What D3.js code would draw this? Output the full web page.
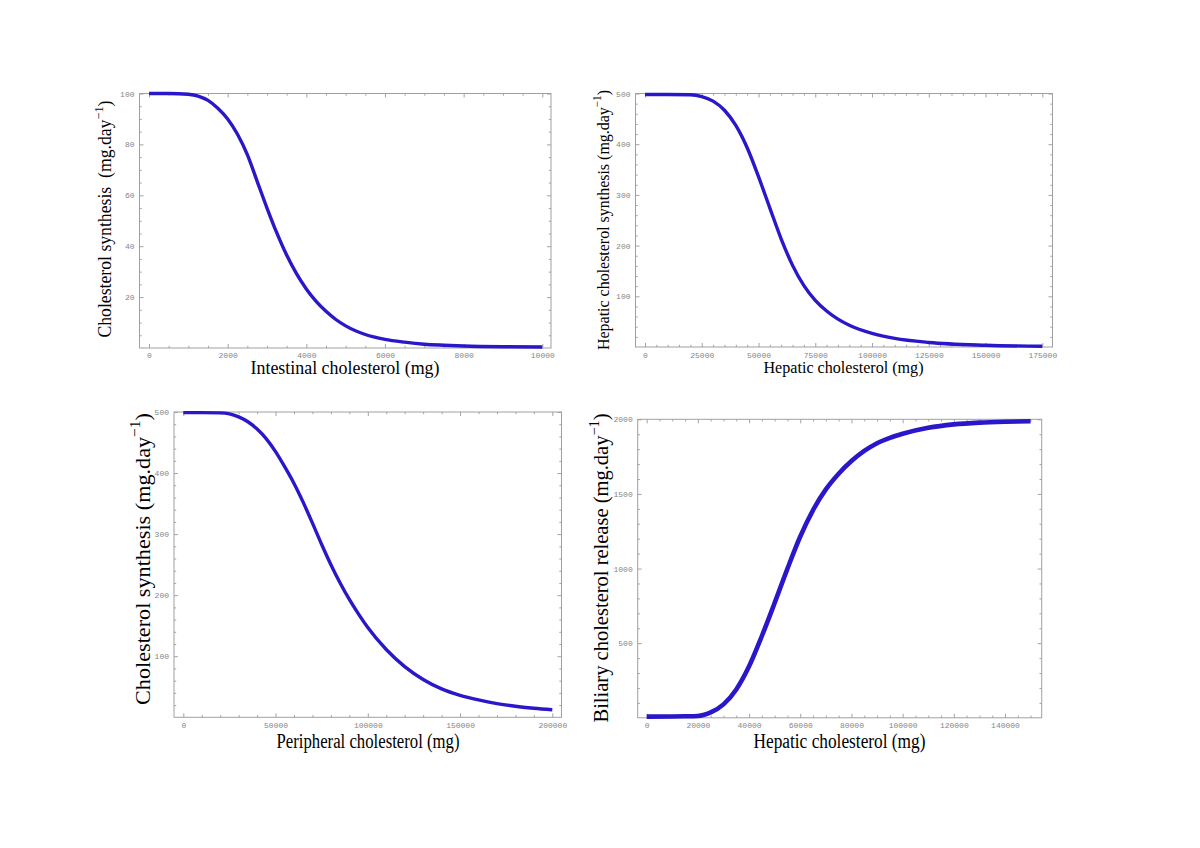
<!DOCTYPE html>
<html>
<head>
<meta charset="utf-8">
<script src="https://cdn.jsdelivr.net/npm/d3@7"></script>
<style>
  html, body { margin: 0; padding: 0; background: #fff; }
  svg { display: block; }
  .tick text { font-family: "Liberation Mono", "DejaVu Sans Mono", monospace; font-size: 8px; fill: #858585; }
  .title { font-family: "Liberation Serif", "Times New Roman", serif; fill: #000; }
</style>
</head>
<body>
<svg id="chart" width="1200" height="848"></svg>
<script>
// ---- Data ----
const p1X = [0, 500, 1000, 1250, 1500, 1750, 2000, 2250, 2500, 2750, 3000, 3250, 3500, 3750, 4000, 4250, 4500, 4750, 5000, 5500, 6000, 6500, 7000, 7500, 8000, 9000, 10000];
const p1Y = [100, 100, 99.7, 99, 97.3, 94.2, 90, 84, 76, 65.5, 55, 45.2, 36.5, 29.2, 23.2, 18.3, 14.4, 11.2, 8.7, 5.3, 3.4, 2.3, 1.5, 1.1, 0.8, 0.5, 0.4];

const p2X = [0, 10000, 20000, 25000, 30000, 35000, 40000, 45000, 50000, 55000, 60000, 65000, 70000, 75000, 80000, 85000, 90000, 100000, 110000, 125000, 150000, 175000];
const p2Y = [498, 498, 497.5, 494, 485, 467, 437, 393, 336, 274, 213, 161, 121, 92, 71, 55, 43, 27, 17, 9, 3.5, 1.5];

const p3X = [0, 10000, 20000, 25000, 30000, 35000, 40000, 45000, 50000, 55000, 60000, 65000, 70000, 75000, 80000, 85000, 90000, 95000, 100000, 110000, 120000, 130000, 140000, 150000, 160000, 170000, 180000, 190000, 200000];
const p3Y = [499, 499, 498.6, 497, 492, 484, 472, 456, 435, 410, 383, 352, 318, 283, 250, 220, 193, 169, 147, 111, 83, 62, 46.5, 36, 28.5, 22.5, 18, 14.8, 12.3];

const p4X = [0, 10000, 15000, 20000, 22500, 25000, 30000, 35000, 40000, 45000, 50000, 55000, 60000, 65000, 70000, 75000, 80000, 85000, 90000, 95000, 100000, 110000, 120000, 130000, 140000, 150000];
const p4Y = [8, 9, 10, 12.5, 21, 36, 90, 190, 345, 548, 770, 1000, 1215, 1392, 1530, 1635, 1720, 1788, 1840, 1876, 1903, 1943, 1966, 1978, 1984, 1987];

// tick values
const p1XTicks = [0, 2000, 4000, 6000, 8000, 10000];
const p1YTicks = [20, 40, 60, 80, 100];
const p2XTicks = [0, 25000, 50000, 75000, 100000, 125000, 150000, 175000];
const p2YTicks = [100, 200, 300, 400, 500];
const p3XTicks = [0, 50000, 100000, 150000, 200000];
const p3YTicks = [100, 200, 300, 400, 500];
const p4XTicks = [0, 20000, 40000, 60000, 80000, 100000, 120000, 140000];
const p4YTicks = [500, 1000, 1500, 2000];

const p1XLabel = "Intestinal cholesterol (mg)";
const p2XLabel = "Hepatic cholesterol (mg)";
const p3XLabel = "Peripheral cholesterol (mg)";
const p4XLabel = "Hepatic cholesterol (mg)";
const p1YLabel = "Cholesterol synthesis\u00a0\u00a0(mg.day";
const p2YLabel = "Hepatic cholesterol synthesis (mg.day";
const p3YLabel = "Cholesterol synthesis (mg.day";
const p4YLabel = "Biliary cholesterol release (mg.day";

// ---- Layout ----
const panels = [
  { xs: p1X, ys: p1Y, xTicks: p1XTicks, yTicks: p1YTicks, xMinor: 500, yMinor: 5,
    xDom: [0, 10000], yDom: [0, 100],
    frame: { l: 139.5, r: 551, t: 93.5, b: 348 }, xr: [149, 542.3], lw: 3.4, pad: 4.5,
    xl: { text: p1XLabel, cx: 345, y: 374, fs: 18, len: 189 },
    yl: { text: p1YLabel, cy: 219, x: 111, fs: 18, len: 237 } },
  { xs: p2X, ys: p2Y, xTicks: p2XTicks, yTicks: p2YTicks, xMinor: 5000, yMinor: 20,
    xDom: [0, 175000], yDom: [0, 500],
    frame: { l: 635.5, r: 1052.5, t: 93.5, b: 347 }, xr: [645, 1042.3], lw: 3.4, pad: 5,
    xl: { text: p2XLabel, cx: 843.5, y: 372.5, fs: 17, len: 160 },
    yl: { text: p2YLabel, cy: 220, x: 609, fs: 17, len: 260 } },
  { xs: p3X, ys: p3Y, xTicks: p3XTicks, yTicks: p3YTicks, xMinor: 10000, yMinor: 20,
    xDom: [0, 200000], yDom: [0, 500],
    frame: { l: 174, r: 561.5, t: 412, b: 717.3 }, xr: [183.3, 552.3], lw: 3.4, pad: 5,
    xl: { text: p3XLabel, cx: 368, y: 747.5, fs: 20, len: 183 },
    yl: { text: p3YLabel, cy: 559, x: 150, fs: 22, len: 292 } },
  { xs: p4X, ys: p4Y, xTicks: p4XTicks, yTicks: p4YTicks, xMinor: 5000, yMinor: 100,
    xDom: [0, 140000], yDom: [0, 2000],
    frame: { l: 637.7, r: 1041.7, t: 419.3, b: 717.8 }, xr: [646.7, 1005], lw: 4.6, pad: 5,
    xl: { text: p4XLabel, cx: 839.5, y: 747.5, fs: 20, len: 172 },
    yl: { text: p4YLabel, cy: 568, x: 608, fs: 21, len: 309 } }
];

const svg = d3.select("#chart");
svg.append("rect").attr("width", 1200).attr("height", 848).attr("fill", "#fff");

const lineColor = "#2a17c9";

panels.forEach(p => {
  const f = p.frame;
  const x = d3.scaleLinear().domain(p.xDom).range(p.xr);
  const y = d3.scaleLinear().domain(p.yDom).range([f.b, f.t]);
  const xHi = x.invert(f.r);
  const g = svg.append("g");

  // minor tick values
  const xMinorVals = d3.range(0, xHi + 1e-9, p.xMinor).filter(v => !p.xTicks.includes(v));
  const yMinorVals = d3.range(p.yMinor, p.yDom[1] + 1e-9, p.yMinor).filter(v => !p.yTicks.includes(v));

  const styleAxis = sel => {
    sel.select(".domain").remove();
    sel.selectAll(".tick line").attr("stroke", "#8c8c8c").attr("stroke-width", 0.8);
  };

  // bottom major with labels
  g.append("g").attr("transform", `translate(0,${f.b})`)
    .call(d3.axisBottom(x).tickValues(p.xTicks).tickSize(-4).tickPadding(p.pad).tickFormat(d3.format("d")))
    .call(styleAxis);
  g.append("g").attr("transform", `translate(0,${f.b})`)
    .call(d3.axisBottom(x).tickValues(xMinorVals).tickSize(-2.2).tickFormat(""))
    .call(styleAxis);
  // top
  g.append("g").attr("transform", `translate(0,${f.t})`)
    .call(d3.axisTop(x).tickValues(p.xTicks).tickSize(-4).tickFormat(""))
    .call(styleAxis);
  g.append("g").attr("transform", `translate(0,${f.t})`)
    .call(d3.axisTop(x).tickValues(xMinorVals).tickSize(-2.2).tickFormat(""))
    .call(styleAxis);
  // left major with labels
  g.append("g").attr("transform", `translate(${f.l},0)`)
    .call(d3.axisLeft(y).tickValues(p.yTicks).tickSize(-4).tickPadding(5).tickFormat(d3.format("d")))
    .call(styleAxis);
  g.append("g").attr("transform", `translate(${f.l},0)`)
    .call(d3.axisLeft(y).tickValues(yMinorVals).tickSize(-2.2).tickFormat(""))
    .call(styleAxis);
  // right
  g.append("g").attr("transform", `translate(${f.r},0)`)
    .call(d3.axisRight(y).tickValues(p.yTicks).tickSize(-4).tickFormat(""))
    .call(styleAxis);
  g.append("g").attr("transform", `translate(${f.r},0)`)
    .call(d3.axisRight(y).tickValues(yMinorVals).tickSize(-2.2).tickFormat(""))
    .call(styleAxis);

  // frame
  g.append("rect")
    .attr("x", f.l).attr("y", f.t)
    .attr("width", f.r - f.l).attr("height", f.b - f.t)
    .attr("fill", "none").attr("stroke", "#a0a0a0").attr("stroke-width", 1);

  // curve
  const pts = p.xs.map((v, i) => [v, p.ys[i]]);
  g.append("path")
    .datum(pts)
    .attr("fill", "none")
    .attr("stroke", lineColor)
    .attr("stroke-width", p.lw)
    .attr("stroke-linejoin", "round")
    .attr("d", d3.line().x(d => x(d[0])).y(d => y(d[1])).curve(d3.curveMonotoneX));

  // x title
  g.append("text").attr("class", "title")
    .attr("x", p.xl.cx).attr("y", p.xl.y)
    .attr("text-anchor", "middle")
    .attr("font-size", p.xl.fs)
    .attr("textLength", p.xl.len)
    .attr("lengthAdjust", "spacingAndGlyphs")
    .text(p.xl.text);

  // y title (rotated) with superscript -1
  const yt = g.append("text").attr("class", "title")
    .attr("transform", `translate(${p.yl.x},${p.yl.cy}) rotate(-90)`)
    .attr("text-anchor", "middle")
    .attr("font-size", p.yl.fs)
    .attr("textLength", p.yl.len)
    .attr("lengthAdjust", "spacingAndGlyphs");
  const sup = p.yl.fs * 0.45;
  yt.append("tspan").text(p.yl.text);
  yt.append("tspan").attr("font-size", p.yl.fs * 0.7).attr("dy", -sup).text("\u22121");
  yt.append("tspan").attr("dy", sup).text(")");
});
</script>
</body>
</html>
